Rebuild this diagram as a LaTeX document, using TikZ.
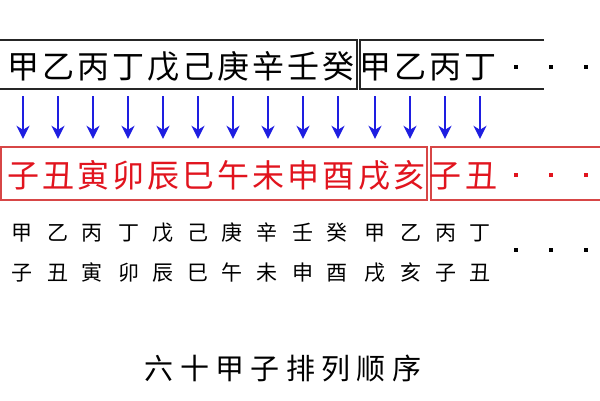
\documentclass[tikz,border=0pt]{standalone}
\usepackage{fontspec}
\setmainfont{Noto Sans CJK SC}
\newfontfamily\titlefont[LetterSpace=22]{Noto Sans CJK SC}
\usetikzlibrary{arrows.meta}
\definecolor{zhired}{RGB}{225,20,30}
\definecolor{boxred}{RGB}{215,70,70}
\definecolor{arrowblue}{RGB}{30,30,225}
\begin{document}
\begin{tikzpicture}[x=1pt,y=-1pt,
	bigchar/.style={inner sep=0pt,minimum width=35pt,minimum height=50pt,text height=28.2pt,text depth=3.8pt,font=\fontsize{32}{32}\selectfont},
	smallchar/.style={inner sep=0pt,text height=18.5pt,text depth=2.5pt,font=\fontsize{21}{21}\selectfont},
	dotsq/.style={fill,inner sep=0pt,minimum size=4.5pt},
	arr/.style={arrowblue,line width=1.8pt,-{Stealth[length=13pt,width=13pt,inset=4pt]}}]
				\useasboundingbox (0,0) rectangle (600,400);
				% boxes
				\draw[black!85,line width=1.2pt] (-3,40) -- (357,40) -- (357,89) -- (-3,89);
				\draw[black!85,line width=1.2pt] (544,40) -- (360,40) -- (360,89) -- (544,89);
				\draw[boxred,line width=1.3pt] (1,147) rectangle (427,200);
				\draw[boxred,line width=1.3pt] (603,147) -- (431,147) -- (431,200) -- (603,200);
				% stems and branches
				\foreach \c/\x [count=\i] in {甲/23,乙/58,丙/93,丁/128,戊/163,己/198,庚/233,辛/268,壬/303,癸/338,甲/375,乙/410,丙/445,丁/480}
					\node[bigchar] (g\i) at (\x,66) {\c};
				\foreach \c/\x [count=\i] in {子/23,丑/58,寅/93,卯/128,辰/163,巳/198,午/233,未/268,申/303,酉/338,戌/374,亥/409,子/445,丑/481}
					\node[bigchar,zhired] (z\i) at (\x,175) {\c};
				\foreach \i in {1,...,14}
					\draw[arr,shorten <=5pt,shorten >=11pt] (g\i.south) -- (g\i.south |- z\i.north);
				% pairs
				\foreach \c/\x [count=\i] in {甲/22,乙/58,丙/92,丁/129,戊/163,己/198,庚/232,辛/267,壬/303,癸/337,甲/375,乙/411,丙/446,丁/480}
					\node[smallchar] (a\i) at (\x,232) {\c};
				\foreach \c/\x [count=\i] in {子/22,丑/58,寅/92,卯/129,辰/163,巳/198,午/232,未/267,申/303,酉/337,戌/375,亥/411,子/446,丑/480}
					\node[smallchar] (b\i) at (\x,272) {\c};
				\foreach \x [count=\i] in {516,551,586} {
					\node[dotsq] (gd\i) at (\x,67) {};
					\node[dotsq,zhired] (zd\i) at (\x,175) {};
					\node[dotsq,minimum size=4pt] (pd\i) at (\x,250) {};
				}
				\node[font=\titlefont\fontsize{29}{29}\selectfont,text height=25.5pt,text depth=3.5pt,inner sep=0pt] (title) at (283,368) {六十甲子排列顺序};
\end{tikzpicture}
\end{document}
